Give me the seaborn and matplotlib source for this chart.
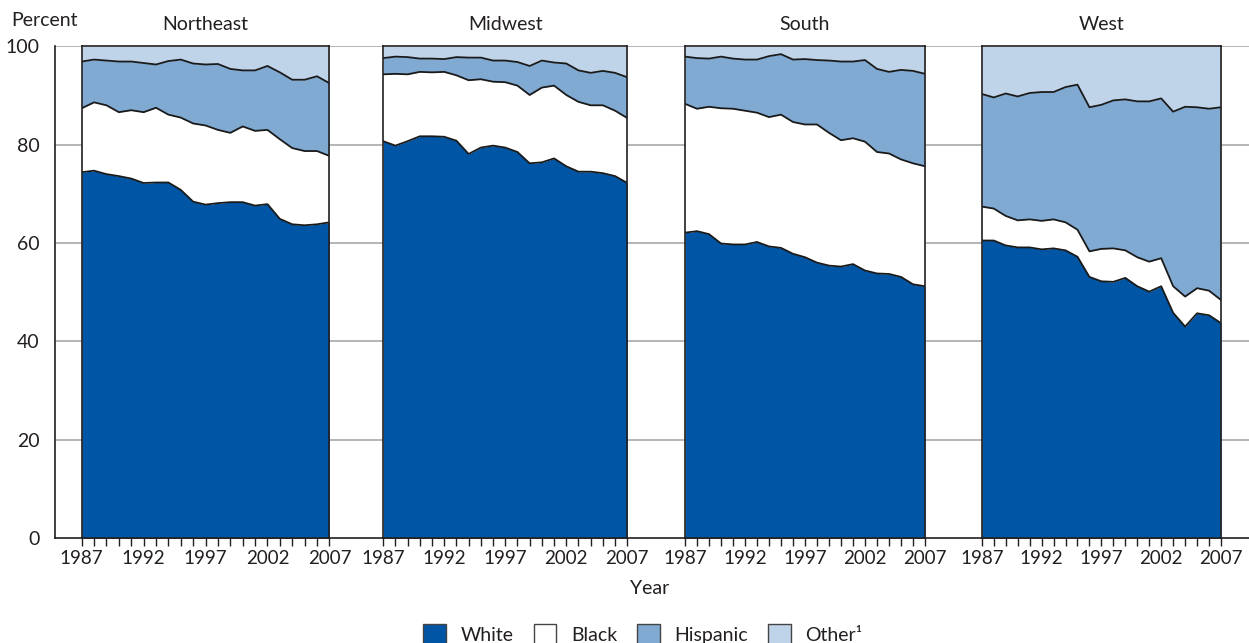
import numpy as np
import pandas as pd
import matplotlib
matplotlib.use("Agg")
import matplotlib.pyplot as plt
from matplotlib.patches import Patch
import seaborn as sns

years = list(range(1987, 2008))
regions = ["Northeast", "Midwest", "South", "West"]
groups = ["White", "Black", "Hispanic", "Other"]
legend_labels = ["White", "Black", "Hispanic", "Other\u00b9"]
tick_years = [1987, 1992, 1997, 2002, 2007]

ne_white = [74.4, 74.7, 74.0, 73.6, 73.1, 72.2, 72.3, 72.3, 70.8, 68.4, 67.8, 68.1, 68.3, 68.3, 67.6, 67.9, 64.9, 63.8, 63.6, 63.8, 64.2]
ne_black = [13.0, 13.9, 14.0, 13.0, 13.9, 14.4, 15.2, 13.8, 14.7, 15.9, 16.1, 14.9, 14.1, 15.4, 15.2, 15.1, 16.2, 15.5, 15.1, 14.9, 13.5]
ne_hisp = [9.5, 8.7, 9.1, 10.3, 9.9, 10.0, 8.8, 10.9, 11.8, 12.2, 12.4, 13.4, 13.0, 11.4, 12.3, 13.0, 13.6, 13.9, 14.5, 15.2, 14.8]
ne_other = [3.1, 2.7, 2.9, 3.1, 3.1, 3.4, 3.7, 3.0, 2.7, 3.5, 3.7, 3.6, 4.6, 4.9, 4.9, 4.0, 5.3, 6.8, 6.8, 6.1, 7.5]

mw_white = [80.7, 79.8, 80.7, 81.7, 81.7, 81.6, 80.8, 78.1, 79.4, 79.8, 79.4, 78.5, 76.2, 76.4, 77.2, 75.6, 74.5, 74.5, 74.2, 73.6, 72.2]
mw_black = [13.6, 14.6, 13.6, 13.1, 13.0, 13.2, 13.3, 15.0, 13.9, 13.0, 13.3, 13.5, 13.9, 15.2, 14.8, 14.5, 14.2, 13.5, 13.8, 13.3, 13.2]
mw_hisp = [3.3, 3.5, 3.5, 2.7, 2.8, 2.6, 3.7, 4.6, 4.4, 4.3, 4.4, 4.8, 5.9, 5.5, 4.7, 6.4, 6.4, 6.6, 7.0, 7.7, 8.3]
mw_other = [2.4, 2.1, 2.2, 2.5, 2.5, 2.6, 2.2, 2.3, 2.3, 2.9, 2.9, 3.2, 4.0, 2.9, 3.3, 3.5, 4.9, 5.4, 5.0, 5.4, 6.3]

so_white = [62.1, 62.4, 61.8, 59.9, 59.7, 59.7, 60.2, 59.3, 59.0, 57.8, 57.1, 56.0, 55.4, 55.2, 55.7, 54.4, 53.8, 53.7, 53.1, 51.6, 51.2]
so_black = [26.2, 24.9, 25.9, 27.5, 27.6, 27.2, 26.3, 26.3, 27.1, 26.8, 27.0, 28.1, 27.0, 25.7, 25.6, 26.2, 24.7, 24.5, 23.9, 24.6, 24.4]
so_hisp = [9.6, 10.3, 9.8, 10.5, 10.2, 10.4, 10.8, 12.4, 12.3, 12.7, 13.3, 13.1, 14.7, 16.0, 15.6, 16.6, 16.9, 16.6, 18.2, 18.8, 18.8]
so_other = [2.1, 2.4, 2.5, 2.1, 2.5, 2.7, 2.7, 2.0, 1.6, 2.7, 2.6, 2.8, 2.9, 3.1, 3.1, 2.8, 4.6, 5.2, 4.8, 5.0, 5.6]

we_white = [60.5, 60.5, 59.5, 59.1, 59.1, 58.7, 58.9, 58.5, 57.2, 53.1, 52.2, 52.1, 52.9, 51.2, 50.1, 51.2, 45.8, 43.0, 45.7, 45.3, 43.7]
we_black = [6.9, 6.5, 6.0, 5.5, 5.7, 5.8, 5.9, 5.7, 5.5, 5.2, 6.6, 6.8, 5.6, 5.9, 6.1, 5.7, 5.4, 6.1, 5.1, 5.0, 4.7]
we_hisp = [22.9, 22.6, 24.9, 25.2, 25.7, 26.2, 25.9, 27.5, 29.5, 29.3, 29.3, 30.1, 30.7, 31.7, 32.6, 32.5, 35.5, 38.6, 36.8, 37.0, 39.2]
we_other = [9.7, 10.4, 9.6, 10.2, 9.5, 9.3, 9.3, 8.3, 7.8, 12.4, 11.9, 11.0, 10.8, 11.2, 11.2, 10.6, 13.3, 12.3, 12.4, 12.7, 12.4]

region_data = {
    "Northeast": (ne_white, ne_black, ne_hisp, ne_other),
    "Midwest": (mw_white, mw_black, mw_hisp, mw_other),
    "South": (so_white, so_black, so_hisp, so_other),
    "West": (we_white, we_black, we_hisp, we_other),
}

colors = ["#0055A5", "#FFFFFF", "#80AAD2", "#C0D4E9"]

sns.set_theme(style="white")
plt.rcParams["font.family"] = ["Lato", "DejaVu Sans"]
plt.rcParams["text.color"] = "#231F20"

W, H = 1249, 643
fig = plt.figure(figsize=(W / 100, H / 100), dpi=100)


def frame(x0, x1, ytop, ybot):
    return [x0 / W, 1 - ybot / H, (x1 - x0) / W, (ybot - ytop) / H]


FS = 14
TFS = 13.5
ytop, ybot = 46.3, 538
bg = fig.add_axes(frame(55, 1249, ytop, ybot))
bg.set_xlim(0, 1)
bg.set_ylim(0, 100)
bg.set_facecolor("none")
for v in [20, 40, 60, 80, 100]:
    bg.axhline(v, color="#A7A9AC", lw=1.2, zorder=0)
bg.set_yticks([0, 20, 40, 60, 80, 100])
bg.set_yticklabels(["0", "20", "40", "60", "80", "100"])
bg.set_xticks([])
bg.tick_params(axis="y", length=0, pad=11, labelsize=FS, labelcolor="#231F20")
for s in ["top", "right"]:
    bg.spines[s].set_visible(False)
for s in ["left", "bottom"]:
    bg.spines[s].set_color("#231F20")
    bg.spines[s].set_linewidth(1.2)

panel_px = [(81.7, 329.4), (383.2, 627.3), (685.0, 925.0), (981.8, 1221.0)]

for name, (x0, x1) in zip(regions, panel_px):
    ax = fig.add_axes(frame(x0, x1, ytop, ybot))
    vals = region_data[name]
    df = pd.DataFrame({"Year": years})
    for g, v in zip(groups, vals):
        df[g] = v
    cum = df[groups].cumsum(axis=1)
    lower = np.zeros(len(years))
    for g, c in zip(groups, colors):
        upper = cum[g].to_numpy()
        ax.fill_between(df["Year"], lower, upper, color=c, lw=0, zorder=1)
        lower = upper
    bounds = cum[groups[:3]].copy()
    bounds["Year"] = years
    long = bounds.melt(id_vars="Year", var_name="group", value_name="value")
    sns.lineplot(data=long, x="Year", y="value", units="group", estimator=None,
                 color="#1a1a1a", lw=1.3, ax=ax, legend=False, zorder=2)
    ax.set_xlim(1987, 2007)
    ax.set_ylim(0, 100)
    ax.set_xticks(tick_years)
    ax.set_xticks(years, minor=True)
    ax.set_xticklabels([str(y) for y in tick_years])
    ax.set_yticks([])
    ax.set_xlabel("")
    ax.set_ylabel("")
    ax.tick_params(axis="x", which="both", direction="out", length=6, width=1,
                   color="#231F20", bottom=True, labelsize=TFS, pad=3,
                   labelcolor="#231F20")
    for s in ax.spines.values():
        s.set_color("#231F20")
        s.set_linewidth(1.2)
        s.set_visible(True)
    ax.set_title(name, fontsize=FS, pad=12, color="#231F20")

fig.text(11 / W, 1 - 21 / H, "Percent", ha="left", va="center", fontsize=FS)
fig.text(650 / W, 1 - 588 / H, "Year", ha="center", va="center", fontsize=FS)

handles = [Patch(facecolor=c, edgecolor="#444444", lw=1) for c in colors]
fig.legend(handles, legend_labels, loc="upper center",
           bbox_to_anchor=(643 / W, 1 - 624 / H), ncol=4, frameon=False,
           fontsize=FS, handlelength=1.15, handleheight=1.2, handletextpad=0.75,
           columnspacing=1.05, borderaxespad=0, borderpad=0)

fig.savefig("out.png", dpi=100)
